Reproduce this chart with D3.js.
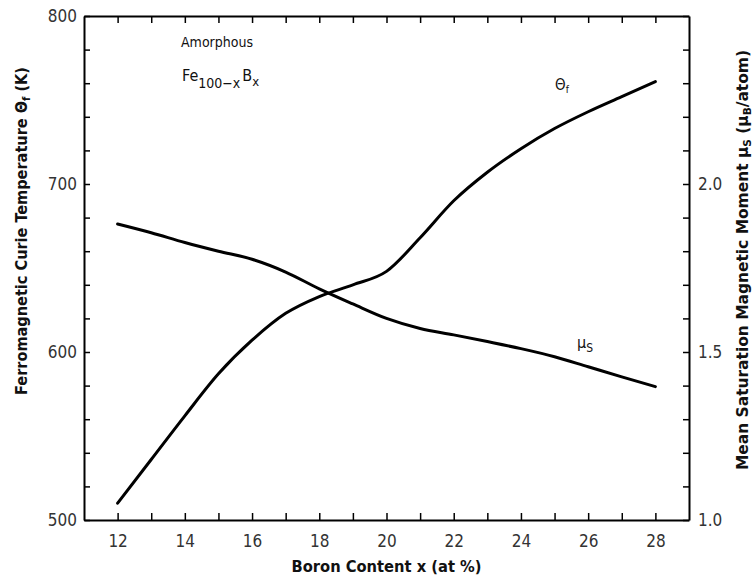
<!DOCTYPE html>
<html>
<head>
<meta charset="utf-8">
<script src="https://cdn.jsdelivr.net/npm/d3@7"></script>
<style>
  body { margin: 0; background: #fff; }
  svg { display: block; }
  .axis path, .axis line { stroke: #000; }
  .axis path { stroke-width: 2; }
  .axis line { stroke-width: 1.5; }
  .axis text { font-family: "Liberation Sans Narrow", "DejaVu Sans Condensed", sans-serif; font-size: 17px; fill: #333; }
  .title { font-family: "Liberation Sans Narrow", "DejaVu Sans Condensed", sans-serif; font-weight: bold; fill: #111; }
  .note { font-family: "Liberation Sans Narrow", "DejaVu Sans Condensed", sans-serif; fill: #111; }
</style>
</head>
<body>
<div id="chart"></div>
<script>
// datos (Fe100-x Bx amorfo)
const boron = [12, 13, 14, 15, 16, 17, 18, 19, 20, 21, 22, 23, 24, 25, 26, 27, 28];
const curieTemp = [510, 536, 562, 587, 607, 623, 633, 640, 648, 668, 690, 707, 721, 733, 743, 752, 761];
const satMoment = [1.881, 1.855, 1.826, 1.800, 1.776, 1.738, 1.688, 1.643, 1.600, 1.570, 1.551, 1.531, 1.510, 1.486, 1.456, 1.426, 1.397];

// marcas de los ejes
const xTicks = d3.range(12, 29, 1);
const xTickLabels = [12, 14, 16, 18, 20, 22, 24, 26, 28];
const tempTicks = d3.range(500, 801, 20);
const tempTickLabels = [500, 600, 700, 800];
const momentTicks = d3.range(10, 26, 1).map(d => d / 10);
const momentTickLabels = [1.0, 1.5, 2.0];

const width = 756;
const height = 578;
const plot = { left: 84, right: 689, top: 16, bottom: 520 };

const svg = d3.select("#chart")
    .append("svg")
    .attr("width", width)
    .attr("height", height);

// escalas
const x = d3.scaleLinear().domain([11, 29]).range([plot.left, plot.right]);
const yT = d3.scaleLinear().domain([500, 800]).range([plot.bottom, plot.top]);
const yM = d3.scaleLinear().domain([1.0, 2.5]).range([plot.bottom, plot.top]);

// ejes
svg.append("g")
    .attr("class", "axis")
    .attr("transform", `translate(0, ${plot.bottom})`)
    .call(d3.axisBottom(x)
        .tickValues(xTicks)
        .tickSize(-7)
        .tickSizeOuter(0)
        .tickPadding(15)
        .tickFormat(d => xTickLabels.includes(d) ? d : ""));

svg.append("g")
    .attr("class", "axis")
    .attr("transform", `translate(0, ${plot.top})`)
    .call(d3.axisTop(x)
        .tickValues(xTicks)
        .tickSize(-7)
        .tickSizeOuter(0)
        .tickFormat(""));

svg.append("g")
    .attr("class", "axis")
    .attr("transform", `translate(${plot.left}, 0)`)
    .call(d3.axisLeft(yT)
        .tickValues(tempTicks)
        .tickSize(-6)
        .tickSizeOuter(0)
        .tickPadding(7)
        .tickFormat(d => tempTickLabels.includes(d) ? d : ""));

svg.append("g")
    .attr("class", "axis")
    .attr("transform", `translate(${plot.right}, 0)`)
    .call(d3.axisRight(yM)
        .tickValues(momentTicks)
        .tickSize(-6)
        .tickSizeOuter(0)
        .tickPadding(9)
        .tickFormat(d => momentTickLabels.some(v => Math.abs(v - d) < 1e-9) ? d3.format(".1f")(d) : ""));

// curvas
const curieData = boron.map((b, i) => ({ b, v: curieTemp[i] }));
const momentData = boron.map((b, i) => ({ b, v: satMoment[i] }));

svg.append("path")
    .datum(curieData)
    .attr("fill", "none")
    .attr("stroke", "#000")
    .attr("stroke-width", 3)
    .attr("stroke-linecap", "round")
    .attr("d", d3.line().x(d => x(d.b)).y(d => yT(d.v)).curve(d3.curveMonotoneX));

svg.append("path")
    .datum(momentData)
    .attr("fill", "none")
    .attr("stroke", "#000")
    .attr("stroke-width", 3)
    .attr("stroke-linecap", "round")
    .attr("d", d3.line().x(d => x(d.b)).y(d => yM(d.v)).curve(d3.curveMonotoneX));

// títulos de ejes
svg.append("text")
    .attr("class", "title")
    .attr("x", x(20))
    .attr("y", 572)
    .attr("text-anchor", "middle")
    .attr("font-size", "16px")
    .attr("textLength", 190)
    .attr("lengthAdjust", "spacingAndGlyphs")
    .text("Boron Content x (at %)");

const leftTitle = svg.append("text")
    .attr("class", "title")
    .attr("transform", "translate(27, 231) rotate(-90)")
    .attr("text-anchor", "middle")
    .attr("font-size", "16px")
    .attr("textLength", 328)
    .attr("lengthAdjust", "spacingAndGlyphs");
leftTitle.append("tspan").text("Ferromagnetic Curie  Temperature Θ");
leftTitle.append("tspan").attr("font-size", "11px").attr("dy", 3).text("f");
leftTitle.append("tspan").attr("dy", -3).text(" (K)");

const rightTitle = svg.append("text")
    .attr("class", "title")
    .attr("transform", "translate(748, 260) rotate(-90)")
    .attr("text-anchor", "middle")
    .attr("font-size", "16px")
    .attr("textLength", 420)
    .attr("lengthAdjust", "spacingAndGlyphs");
rightTitle.append("tspan").text("Mean Saturation Magnetic Moment μ");
rightTitle.append("tspan").attr("font-size", "11px").attr("dy", 3).text("S");
rightTitle.append("tspan").attr("dy", -3).text(" (μ");
rightTitle.append("tspan").attr("font-size", "11px").attr("dy", 3).text("B");
rightTitle.append("tspan").attr("dy", -3).text("/atom)");

// anotaciones
svg.append("text")
    .attr("class", "note")
    .attr("x", 181)
    .attr("y", 47)
    .attr("font-size", "14px")
    .text("Amorphous");

const formula = svg.append("text")
    .attr("class", "note")
    .attr("x", 182)
    .attr("y", 81)
    .attr("font-size", "16px");
formula.append("tspan").text("Fe");
formula.append("tspan").attr("font-size", "14px").attr("dy", 7).text("100−x");
formula.append("tspan").attr("dy", -7).attr("dx", 2).text("B");
formula.append("tspan").attr("font-size", "13px").attr("dy", 5).text("x");

const thetaLabel = svg.append("text")
    .attr("class", "note")
    .attr("x", 555)
    .attr("y", 90)
    .attr("font-size", "15px");
thetaLabel.append("tspan").text("Θ");
thetaLabel.append("tspan").attr("font-size", "10px").attr("dy", 3).text("f");

const muLabel = svg.append("text")
    .attr("class", "note")
    .attr("x", 577)
    .attr("y", 348)
    .attr("font-size", "16px");
muLabel.append("tspan").text("μ");
muLabel.append("tspan").attr("font-size", "12px").attr("dy", 4).text("S");
</script>
</body>
</html>
